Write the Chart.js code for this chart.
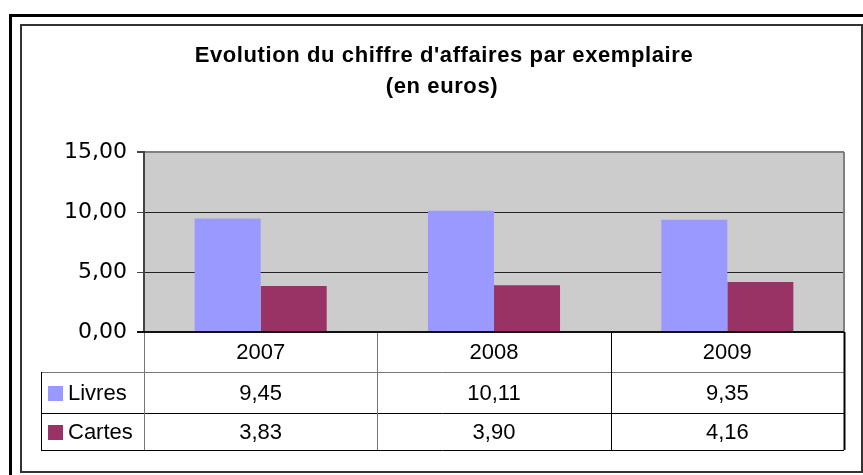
<!DOCTYPE html>
<html>
<head>
<meta charset="utf-8">
<script src="https://cdn.jsdelivr.net/npm/chart.js@4"></script>
<style>
    body { margin: 0; background: #ffffff; }
    #wrap { width: 863px; height: 475px; position: relative; }
</style>
</head>
<body>
<div id="wrap"><canvas id="caChart"></canvas></div>
<script>
// data
const years = ['2007', '2008', '2009']
const livres = [9.45, 10.11, 9.35]
const cartes = [3.83, 3.90, 4.16]
const seriesNames = ['Livres', 'Cartes']
const seriesColors = ['#9999FF', '#993366']
const yTicks = [0, 5, 10, 15]
const titleLines = ["Evolution du chiffre d'affaires par exemplaire", '(en euros)']

// french number format with a comma
const fmt = v => v.toFixed(2).replace('.', ',')

// frame around the whole chart, the title and the grey plot background
const framePlugin = {
    id: 'frame',
    beforeDraw(chart) {
        const ctx = chart.ctx
        const a = chart.chartArea
        ctx.save()
        ctx.fillStyle = '#ffffff'
        ctx.fillRect(0, 0, chart.width, chart.height)
        // outer thick border
        ctx.fillStyle = '#000000'
        ctx.fillRect(9, 14, chart.width - 9, 3)
        ctx.fillRect(9, 14, 3, chart.height - 14)
        // inner border
        ctx.strokeStyle = '#333333'
        ctx.lineWidth = 2
        ctx.strokeRect(21, 25, 841, 447)
        // title (two lines, slightly spaced letters like the excel one)
        ctx.fillStyle = '#000000'
        ctx.font = 'bold 22px "Liberation Sans", Arial, sans-serif'
        ctx.letterSpacing = '0.6px'
        ctx.textAlign = 'center'
        ctx.textBaseline = 'alphabetic'
        ctx.fillText(titleLines[0], 444, 62)
        ctx.fillText(titleLines[1], 442, 93)
        ctx.letterSpacing = '0px'
        // plot area
        ctx.fillStyle = '#CCCCCC'
        ctx.fillRect(a.left, a.top, a.right - a.left, a.bottom - a.top)
        ctx.restore()
    },
    beforeDatasetsDraw(chart) {
        const ctx = chart.ctx
        const a = chart.chartArea
        ctx.save()
        ctx.strokeStyle = '#808080'
        ctx.lineWidth = 2
        ctx.beginPath()
        ctx.moveTo(a.right, a.top)
        ctx.lineTo(a.right, a.bottom)
        ctx.stroke()
        ctx.restore()
    }
}

// data table under the plot (years, legend keys and values)
const tablePlugin = {
    id: 'dataTable',
    afterDraw(chart) {
        const ctx = chart.ctx
        const a = chart.chartArea
        const x = chart.scales.x
        const rows = [a.bottom, a.bottom + 40, a.bottom + 81, a.bottom + 118]
        const legendLeft = 41
        const step = (a.right - a.left) / years.length
        const cols = [a.left]
        years.forEach((y, i) => cols.push(a.left + step * (i + 1)))

        ctx.save()
        ctx.lineWidth = 1
        // horizontal lines
        ctx.strokeStyle = '#777777'
        ctx.beginPath()
        ctx.moveTo(legendLeft, rows[1] + 0.5)
        ctx.lineTo(a.right, rows[1] + 0.5)
        ctx.stroke()
        ctx.strokeStyle = '#000000'
        ctx.beginPath()
        ctx.moveTo(legendLeft, rows[2] + 0.5)
        ctx.lineTo(a.right, rows[2] + 0.5)
        ctx.moveTo(legendLeft, rows[3] + 0.5)
        ctx.lineTo(a.right, rows[3] + 0.5)
        ctx.moveTo(legendLeft + 0.5, rows[1])
        ctx.lineTo(legendLeft + 0.5, rows[3])
        ctx.stroke()
        // vertical lines
        cols.forEach((c, i) => {
            ctx.strokeStyle = (i === 0 || i === 1) ? '#777777' : '#000000'
            ctx.lineWidth = (i === cols.length - 1) ? 2 : 1
            ctx.beginPath()
            ctx.moveTo(Math.round(c) + 0.5, a.bottom)
            ctx.lineTo(Math.round(c) + 0.5, rows[3])
            ctx.stroke()
        })
        // x axis line at zero
        ctx.strokeStyle = '#111111'
        ctx.lineWidth = 2
        ctx.beginPath()
        ctx.moveTo(a.left - 7, a.bottom)
        ctx.lineTo(a.right, a.bottom)
        ctx.stroke()

        // texts
        ctx.fillStyle = '#000000'
        ctx.font = '22px "Liberation Sans", Arial, sans-serif'
        ctx.textAlign = 'center'
        ctx.textBaseline = 'middle'
        years.forEach((y, i) => {
            const cx = x.getPixelForValue(i)
            ctx.fillText(y, cx, (rows[0] + rows[1]) / 2 + 1)
            ctx.fillText(fmt(livres[i]), cx, (rows[1] + rows[2]) / 2 + 1)
            ctx.fillText(fmt(cartes[i]), cx, (rows[2] + rows[3]) / 2 + 1)
        })
        ctx.textAlign = 'left'
        seriesNames.forEach((name, i) => {
            const cy = (rows[i + 1] + rows[i + 2]) / 2 + 1
            ctx.fillStyle = seriesColors[i]
            ctx.fillRect(48, Math.round(cy) - 8, 15, 15)
            ctx.fillStyle = '#000000'
            ctx.fillText(name, 68, cy)
        })
        ctx.restore()
    }
}

const caChart = new Chart(document.getElementById('caChart'), {
    type: 'bar',
    data: {
        labels: years,
        datasets: [{
            label: seriesNames[0],
            data: livres,
            backgroundColor: seriesColors[0],
            borderWidth: 0
        }, {
            label: seriesNames[1],
            data: cartes,
            backgroundColor: seriesColors[1],
            borderWidth: 0
        }]
    },
    options: {
        responsive: true,
        maintainAspectRatio: false,
        animation: false,
        layout: {
            padding: { left: 0, right: 19, top: 152, bottom: 143 }
        },
        datasets: {
            bar: { categoryPercentage: 0.566, barPercentage: 1 }
        },
        scales: {
            x: {
                display: false
            },
            y: {
                min: 0,
                max: 15,
                afterFit: scale => { scale.width = 144 },
                afterBuildTicks: scale => { scale.ticks = yTicks.map(v => ({ value: v })) },
                border: { display: true, color: '#444444', width: 2 },
                grid: {
                    color: ctx => ctx.tick.value === 15 ? '#808080' : '#222222',
                    lineWidth: ctx => ctx.tick.value === 15 ? 2 : 1,
                    tickColor: '#444444',
                    tickLength: 7,
                    drawTicks: true
                },
                ticks: {
                    color: '#000000',
                    padding: 10,
                    font: { family: '"DejaVu Sans", Verdana, sans-serif', size: 22 },
                    callback: v => fmt(v)
                }
            }
        },
        plugins: {
            legend: { display: false },
            tooltip: { enabled: false },
            title: { display: false }
        }
    },
    plugins: [framePlugin, tablePlugin]
})
</script>
</body>
</html>
